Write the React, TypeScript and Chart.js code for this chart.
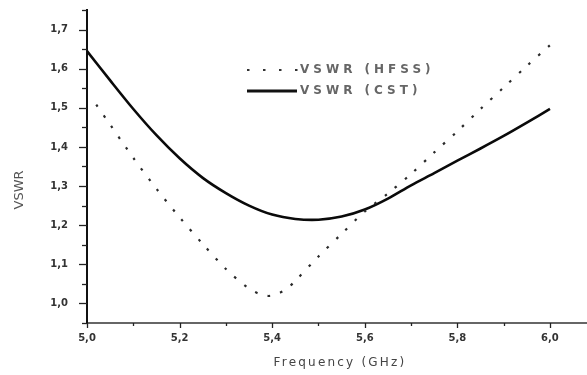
import React, { useEffect, useRef } from "react";
import { Chart, registerables } from "chart.js";

Chart.register(...registerables);

const freqHFSS = [5.02, 5.05, 5.1, 5.15, 5.2, 5.25, 5.3, 5.35, 5.38, 5.4, 5.43, 5.45, 5.5, 5.55, 5.6, 5.65, 5.7, 5.75, 5.8, 5.85, 5.9, 5.95, 6.0];
const vswrHFSS = [1.508, 1.457, 1.372, 1.293, 1.22, 1.152, 1.088, 1.038, 1.021, 1.02, 1.036, 1.058, 1.12, 1.178, 1.235, 1.281, 1.331, 1.386, 1.44, 1.497, 1.552, 1.607, 1.66];

const freqCST = [5.0, 5.05, 5.1, 5.15, 5.2, 5.25, 5.3, 5.35, 5.4, 5.45, 5.5, 5.55, 5.6, 5.65, 5.7, 5.75, 5.8, 5.85, 5.9, 5.95, 6.0];
const vswrCST = [1.645, 1.57, 1.497, 1.43, 1.371, 1.321, 1.282, 1.25, 1.227, 1.216, 1.214, 1.222, 1.24, 1.268, 1.302, 1.333, 1.365, 1.396, 1.428, 1.462, 1.497];

const xMajorTicks = [5.0, 5.2, 5.4, 5.6, 5.8, 6.0];
const xMinorTicks = [5.1, 5.3, 5.5, 5.7, 5.9];
const yMajorTicks = [1.0, 1.1, 1.2, 1.3, 1.4, 1.5, 1.6, 1.7];
const yMinorTicks = [0.95, 1.05, 1.15, 1.25, 1.35, 1.45, 1.55, 1.65, 1.75];

const seriesNames = ["VSWR (HFSS)", "VSWR (CST)"];
const xTitle = "Frequency (GHz)";
const yTitle = "VSWR";

const fmt = (v: number) => v.toFixed(1).replace(".", ",");

const decorPlugin = {
  id: "decor",
  afterDraw(chart: any) {
    const ctx = chart.ctx;
    const xs = chart.scales.x;
    const ys = chart.scales.y;
    const area = chart.chartArea;
    ctx.save();
    ctx.strokeStyle = "#222";
    ctx.lineWidth = 1.3;
    const bottom = area.bottom;
    const left = area.left;
    xMajorTicks.forEach((v) => {
      const p = Math.round(xs.getPixelForValue(v)) + 0.5;
      ctx.beginPath(); ctx.moveTo(p, bottom); ctx.lineTo(p, bottom + 5); ctx.stroke();
    });
    xMinorTicks.forEach((v) => {
      const p = Math.round(xs.getPixelForValue(v)) + 0.5;
      ctx.beginPath(); ctx.moveTo(p, bottom); ctx.lineTo(p, bottom + 3); ctx.stroke();
    });
    yMajorTicks.forEach((v) => {
      const p = Math.round(ys.getPixelForValue(v)) + 0.5;
      ctx.beginPath(); ctx.moveTo(left, p); ctx.lineTo(left - 8, p); ctx.stroke();
    });
    yMinorTicks.forEach((v) => {
      const p = Math.round(ys.getPixelForValue(v)) + 0.5;
      ctx.beginPath(); ctx.moveTo(left, p); ctx.lineTo(left - 5, p); ctx.stroke();
    });

    ctx.fillStyle = "#444";
    ctx.font = "12px 'DejaVu Sans'";
    ctx.textAlign = "center";
    ctx.textBaseline = "middle";
    (ctx as any).letterSpacing = "2.2px";
    ctx.fillText(xTitle, 340, 363);
    (ctx as any).letterSpacing = "0px";
    ctx.save();
    ctx.translate(20, 190);
    ctx.rotate(-Math.PI / 2);
    ctx.font = "13px 'DejaVu Sans'";
    ctx.fillStyle = "#555";
    ctx.fillText(yTitle, 0, 0);
    ctx.restore();

    const lx = area.left + 160;
    const tx = area.left + 213;
    const rows = [70, 91];
    ctx.strokeStyle = "#333";
    ctx.lineWidth = 2;
    ctx.setLineDash([2.5, 13.5]);
    ctx.beginPath(); ctx.moveTo(lx, rows[0]); ctx.lineTo(lx + 55, rows[0]); ctx.stroke();
    ctx.setLineDash([]);
    ctx.strokeStyle = "#111";
    ctx.lineWidth = 3;
    ctx.beginPath(); ctx.moveTo(lx, rows[1]); ctx.lineTo(lx + 50, rows[1]); ctx.stroke();
    ctx.fillStyle = "#666";
    ctx.font = "bold 12px 'DejaVu Sans'";
    ctx.textAlign = "left";
    (ctx as any).letterSpacing = "4px";
    ctx.fillText(seriesNames[0], tx, rows[0]);
    ctx.fillText(seriesNames[1], tx, rows[1]);
    (ctx as any).letterSpacing = "0px";
    ctx.restore();
  },
};

export default function App() {
  const ref = useRef<HTMLCanvasElement | null>(null);
  useEffect(() => {
    if (!ref.current) return;
    const chart = new Chart(ref.current, {
      type: "line",
      data: {
        datasets: [
          {
            label: seriesNames[0],
            data: freqHFSS.map((x, i) => ({ x, y: vswrHFSS[i] })),
            borderColor: "#2a2a2a",
            borderWidth: 2.2,
            borderDash: [2.5, 10.5],
            pointRadius: 0,
            tension: 0.3,
            fill: false,
          },
          {
            label: seriesNames[1],
            data: freqCST.map((x, i) => ({ x, y: vswrCST[i] })),
            borderColor: "#0a0a0a",
            borderWidth: 2.6,
            pointRadius: 0,
            tension: 0.3,
            fill: false,
          },
        ],
      },
      options: {
        animation: false,
        responsive: true,
        maintainAspectRatio: false,
        layout: { padding: { top: 10, right: 0, left: 0, bottom: 0 } },
        plugins: { legend: { display: false }, tooltip: { enabled: false } },
        scales: {
          x: {
            type: "linear",
            min: 5.0,
            max: 6.08,
            afterFit: (s: any) => { s.height = 52; s.paddingLeft = 0; s.paddingRight = 0; },
            afterBuildTicks: (s: any) => { s.ticks = xMajorTicks.map((v) => ({ value: v })); },
            border: { display: true, color: "#666", width: 2 },
            grid: { display: true, drawOnChartArea: false, drawTicks: false },
            ticks: {
              callback: (v: any) => fmt(Number(v)),
              color: "#333",
              font: { family: "'DejaVu Sans'", size: 10, weight: "bold" },
              padding: 9,
              maxRotation: 0,
              autoSkip: false,
            },
          },
          y: {
            type: "linear",
            min: 0.95,
            max: 1.75,
            afterFit: (s: any) => { s.width = 87; s.paddingTop = 0; s.paddingBottom = 0; },
            afterBuildTicks: (s: any) => { s.ticks = yMajorTicks.map((v) => ({ value: v })); },
            border: { display: true, color: "#111", width: 2 },
            grid: { display: true, drawOnChartArea: false, drawTicks: false },
            ticks: {
              callback: (v: any) => fmt(Number(v)),
              color: "#333",
              font: { family: "'DejaVu Sans'", size: 10, weight: "bold" },
              padding: 19,
              autoSkip: false,
            },
          },
        },
      },
      plugins: [decorPlugin],
    });
    return () => chart.destroy();
  }, []);
  return (
    <div style={{ position: "fixed", left: 0, top: 0, width: 587, height: 375, background: "#fff" }}>
      <canvas ref={ref} />
    </div>
  );
}
